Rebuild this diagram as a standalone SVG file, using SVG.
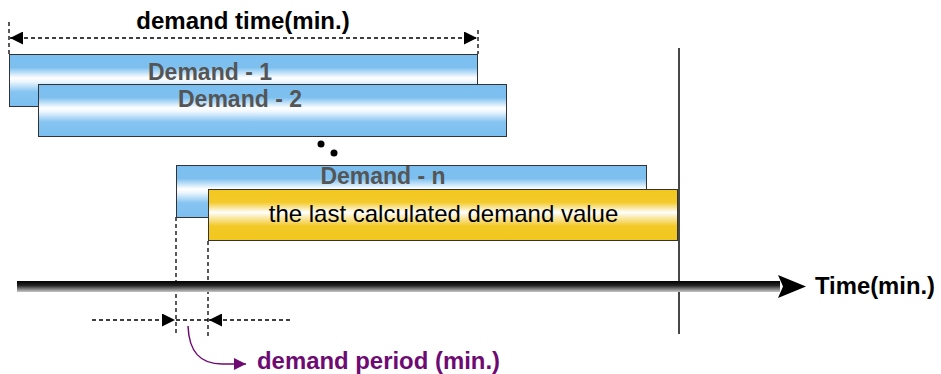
<svg xmlns="http://www.w3.org/2000/svg" width="941" height="374" viewBox="0 0 941 374">
<style>
.bar{stroke:#333;stroke-width:1}
.lbl{font-family:"Liberation Sans",Arial,sans-serif;font-weight:bold;font-size:23px;fill:#555;text-anchor:middle}
.dash{stroke:#000;stroke-width:1.3;stroke-dasharray:4 3;fill:none}
.txt{font-family:"Liberation Sans",Arial,sans-serif;font-weight:bold;font-size:24px;fill:#000}
</style>
<defs>
<linearGradient id="blue" x1="0" y1="0" x2="0" y2="1">
<stop offset="0" stop-color="#7BBFF0"/>
<stop offset="0.25" stop-color="#7DC0F0"/>
<stop offset="0.45" stop-color="#FFFFFF"/>
<stop offset="0.52" stop-color="#EEF7FE"/>
<stop offset="0.72" stop-color="#86C4F1"/>
<stop offset="1" stop-color="#7BBFF0"/>
</linearGradient>
<linearGradient id="gold" x1="0" y1="0" x2="0" y2="1">
<stop offset="0" stop-color="#F2C71E"/>
<stop offset="0.25" stop-color="#F3CA2A"/>
<stop offset="0.45" stop-color="#FFFFFF"/>
<stop offset="0.52" stop-color="#FBEFC0"/>
<stop offset="0.72" stop-color="#F2C826"/>
<stop offset="1" stop-color="#F2C71E"/>
</linearGradient>
<linearGradient id="axis" x1="0" y1="0" x2="0" y2="1">
<stop offset="0" stop-color="#000"/>
<stop offset="0.4" stop-color="#222"/>
<stop offset="1" stop-color="#c8c8c8"/>
</linearGradient>
<marker id="ahb" viewBox="0 0 12 12" refX="12" refY="6" markerWidth="13" markerHeight="13" markerUnits="userSpaceOnUse" orient="auto-start-reverse">
<path d="M0,0 L12,6 L0,12 Z" fill="#000"/>
</marker>
<marker id="ahp" viewBox="0 0 10 10" refX="10" refY="5" markerWidth="12" markerHeight="12" markerUnits="userSpaceOnUse" orient="auto">
<path d="M0,0 L10,5 L0,10 Z" fill="#6E0B73"/>
</marker>
</defs>

<g id="connectors">
<line class="dash" x1="9" y1="22" x2="9" y2="54"/>
<line class="dash" x1="478" y1="30" x2="478" y2="54"/>
<line class="dash" x1="10" y1="38" x2="477" y2="38" marker-start="url(#ahb)" marker-end="url(#ahb)"/>
<line x1="679" y1="48" x2="679" y2="334" stroke="#333" stroke-width="1.8"/>
<line class="dash" x1="176" y1="217" x2="176" y2="334"/>
<line class="dash" x1="208" y1="241" x2="208" y2="337"/>
<line class="dash" x1="92" y1="320" x2="175" y2="320" marker-end="url(#ahb)"/>
<line class="dash" x1="290" y1="320" x2="209" y2="320" marker-end="url(#ahb)"/>
<line class="dash" x1="176" y1="320" x2="208" y2="320"/>
<path d="M188,326 C189,352 200,364 222,364 L246,364" fill="none" stroke="#6E0B73" stroke-width="1.5" marker-end="url(#ahp)"/>
</g>

<g id="demand-time-label">
<text class="txt" x="243" y="29" text-anchor="middle" font-size="23">demand time(min.)</text>
</g>

<g id="demand-1">
<rect class="bar" x="9.5" y="54.5" width="468" height="52" fill="url(#blue)"/>
<text class="lbl" x="210" y="80">Demand - 1</text>
</g>
<g id="demand-2">
<rect class="bar" x="38.5" y="84.5" width="468" height="52" fill="url(#blue)"/>
<text class="lbl" x="240" y="107">Demand - 2</text>
</g>
<g id="dots">
<circle cx="321" cy="144" r="3.5" fill="#000"/>
<circle cx="334" cy="153" r="3.5" fill="#000"/>
</g>
<g id="demand-n">
<rect class="bar" x="176.5" y="165.5" width="470" height="52" fill="url(#blue)"/>
<text class="lbl" x="383" y="184">Demand - n</text>
</g>
<g id="last-value">
<rect class="bar" x="208.5" y="189.5" width="469" height="51" fill="url(#gold)"/>
<text x="443.5" y="222" text-anchor="middle" font-family="'Liberation Sans',Arial,sans-serif" font-size="24" fill="#000">the last calculated demand value</text>
</g>

<g id="time-axis">
<rect x="17" y="281" width="763" height="11" fill="url(#axis)"/>
<path d="M778,275 L806,286.5 L778,298 L783,286.5 Z" fill="#000"/>
<text class="txt" x="815" y="294" font-size="26" textLength="120" lengthAdjust="spacingAndGlyphs">Time(min.)</text>
</g>

<g id="demand-period-label">
<text class="txt" x="257" y="369" style="fill:#6E0B73" textLength="243" lengthAdjust="spacingAndGlyphs">demand period (min.)</text>
</g>
</svg>
